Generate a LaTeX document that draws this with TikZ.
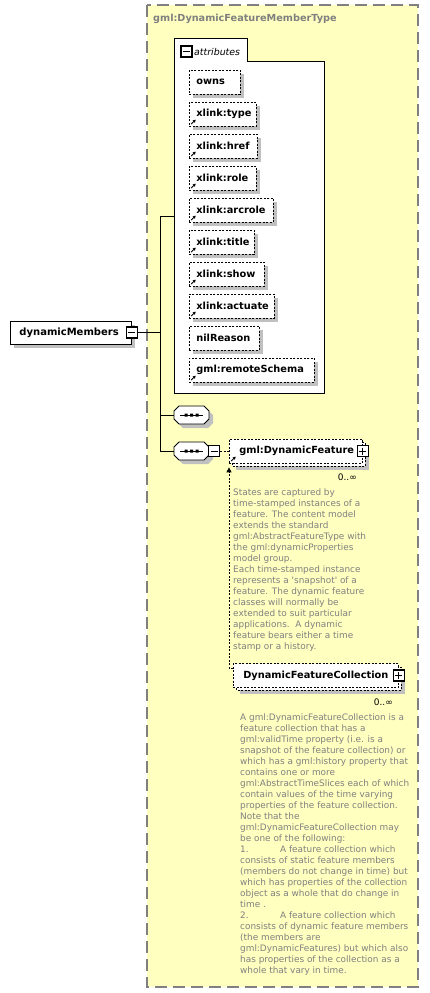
\documentclass[tikz,border=0pt]{standalone}
\usepackage{fontspec}
\setmainfont{DejaVu Sans}
\usetikzlibrary{arrows.meta,shadows}
\definecolor{ybg}{RGB}{255,255,192}
\definecolor{bgray}{RGB}{128,128,128}
\definecolor{shgray}{RGB}{192,192,192}
\definecolor{tgray}{RGB}{128,128,128}
\newcommand\refmark[1]{\draw[line width=0.9pt,-{Triangle[length=2.8pt,width=3pt]}] ([xshift=2.2pt,yshift=2.2pt]#1.south west) -- ++(4.5,-4.5);}
\begin{document}
\begin{tikzpicture}[x=1pt,y=-1pt,
  lbl/.style={font=\fontsize{9.8}{11}\selectfont\bfseries},
  shad/.style={drop shadow={shadow xshift=4pt,shadow yshift=-4pt,fill=shgray,opacity=1}},
  attr/.style={lbl,draw,dash pattern=on 2pt off 1.5pt,line width=0.7pt,fill=white,minimum height=24pt,inner xsep=7pt,inner ysep=0pt,anchor=west,align=left,shad},
  elem/.style={lbl,draw,dash pattern=on 2pt off 1.5pt,line width=0.7pt,fill=white,minimum height=24pt,inner xsep=10pt,inner ysep=0pt,anchor=west,align=left},
  elemback/.style={draw,dash pattern=on 2pt off 1.5pt,line width=0.7pt,fill=white},
  pm/.style={draw,line width=1.2pt,fill=white,minimum size=11pt,inner sep=0pt},
  minusbox/.style={pm,path picture={\draw[line width=1pt] ([xshift=2pt]path picture bounding box.west) -- ([xshift=-2pt]path picture bounding box.east);}},
  plusbox/.style={pm,path picture={\draw[line width=1pt] ([xshift=2pt]path picture bounding box.west) -- ([xshift=-2pt]path picture bounding box.east) ([yshift=-2pt]path picture bounding box.north) -- ([yshift=2pt]path picture bounding box.south);}},
  conn/.style={line width=0.9pt},
  note/.style={font=\fontsize{8.9}{11}\selectfont,text=tgray,align=left,inner sep=0pt,anchor=north west},
  occ/.style={font=\fontsize{9}{11}\selectfont,anchor=east,inner sep=0pt},
  seqpic/.pic={
    \begin{scope}[shift={(4,4)}]
      \fill[shgray] (0,-4)--(5,-9)--(30,-9)--(35,-4)--(35,4)--(30,9)--(5,9)--(0,4)--cycle;
    \end{scope}
    \draw[line width=0.9pt,fill=white] (0,-4)--(5,-9)--(30,-9)--(35,-4)--(35,4)--(30,9)--(5,9)--(0,4)--cycle;
    \draw[line width=0.9pt] (6,0)--(29,0);
    \fill (10.5,-1.5) rectangle ++(3,3) (16,-1.5) rectangle ++(3,3) (21.5,-1.5) rectangle ++(3,3);
    \coordinate (-w) at (0,0);
    \coordinate (-e) at (35,0);
  }
]
\useasboundingbox (0,0) rectangle (429,993);
% complex type background
\draw[fill=ybg,draw=bgray,line width=1.8pt,dash pattern=on 12pt off 6pt] (147,5) rectangle (418,987);
\node[text=bgray,font=\fontsize{9.7}{11}\selectfont\bfseries,anchor=west,inner sep=0pt] (title) at (153,19) {gml:DynamicFeatureMemberType};

% attributes container
\draw[line width=0.9pt,fill=white] (174,38) -- (247,38) -- (247,61) -- (324,61) -- (324,393) -- (174,393) -- cycle;
\node[minusbox] (attm) at (186.5,51.5) {};
\node[font=\fontsize{9.4}{11}\selectfont\itshape,anchor=west,inner sep=0pt] (attl) at (194,51.5) {attributes};
\coordinate (attin) at (174,216);

\node[attr,text width=37pt] (a1) at (189,82) {owns};
\node[attr,text width=53pt] (a2) at (189,114) {xlink:type};
\node[attr,text width=54pt] (a3) at (189,146) {xlink:href};
\node[attr,text width=53pt] (a4) at (189,178) {xlink:role};
\node[attr,text width=70pt] (a5) at (189,210) {xlink:arcrole};
\node[attr,text width=51pt] (a6) at (189,242) {xlink:title};
\node[attr,text width=61pt] (a7) at (189,274) {xlink:show};
\node[attr,text width=71pt] (a8) at (189,306) {xlink:actuate};
\node[attr,text width=56pt] (a9) at (189,338) {nilReason};
\node[attr,text width=111pt] (a10) at (189,370) {gml:remoteSchema};
\refmark{a2}\refmark{a3}\refmark{a4}\refmark{a5}\refmark{a6}\refmark{a7}\refmark{a8}\refmark{a10}

% dynamicMembers element
\node[lbl,font=\fontsize{10}{11}\selectfont\bfseries,draw,line width=0.9pt,fill=white,minimum height=23pt,inner xsep=9pt,inner ysep=0pt,anchor=west,align=left,text width=103pt,shad] (dm) at (10,332.5) {dynamicMembers};
\node[minusbox] (dmm) at (dm.east) {};

% sequences
\pic (s1) at (174,415) {seqpic};
\pic (s2) at (174,451) {seqpic};
\node[minusbox] (s2m) at (214,451) {};

% connectors
\coordinate (vtop) at (160,216);
\coordinate (vbot) at (160,451);
\draw[conn] (dmm.east) -- (dmm.east -| vtop);
\draw[conn] (vtop) -- (vbot);
\draw[conn] (vtop) -- (attin);
\draw[conn] (s1-w -| vtop) -- (s1-w);
\draw[conn] (vbot) -- (s2-w);

% gml:DynamicFeature
\fill[shgray] (236,446) rectangle (369,470);
\draw[elemback] (232,442) rectangle (365,466);
\node[elem,text width=113pt] (df) at (229,451) {gml:DynamicFeature};
\node[plusbox] (dfp) at (df.east) {};
\refmark{df}
\draw[conn,line width=0.8pt,dash pattern=on 2pt off 1.5pt] (s2m.east) -- (df.west);
\node[occ] (dfo) at (357,477) {0..∞};

% DynamicFeatureCollection
\fill[shgray] (240,671) rectangle (405,694);
\draw[elemback] (236,667) rectangle (401,690);
\node[elem,text width=145pt] (dfc) at (233,675.5) {DynamicFeatureCollection};
\node[plusbox] (dfcp) at (dfc.east) {};
\node[occ] (dfco) at (393,702) {0..∞};

% substitution connector
\draw[line width=0.8pt,dash pattern=on 2pt off 1.5pt,-{Triangle[length=5pt,width=5pt]}] ([yshift=-5pt]dfc.north west) -| ([yshift=-4pt]df.south west);

% annotations
\node[note] (n1) at (233,489) {States are captured by\\
time-stamped instances of a\\
feature. The content model\\
extends the standard\\
gml:AbstractFeatureType with\\
the gml:dynamicProperties\\
model group.\\
Each time-stamped instance\\
represents a \textquotesingle snapshot\textquotesingle\ of a\\
feature. The dynamic feature\\
classes will normally be\\
extended to suit particular\\
applications.\ \ A dynamic\\
feature bears either a time\\
stamp or a history.};

\node[note] (n2) at (240,714) {A gml:DynamicFeatureCollection is a\\
feature collection that has a\\
gml:validTime property (i.e. is a\\
snapshot of the feature collection) or\\
which has a gml:history property that\\
contains one or more\\
gml:AbstractTimeSlices each of which\\
contain values of the time varying\\
properties of the feature collection.\\
Note that the\\
gml:DynamicFeatureCollection may\\
be one of the following:\\
\makebox[40pt][l]{1.}A feature collection which\\
consists of static feature members\\
(members do not change in time) but\\
which has properties of the collection\\
object as a whole that do change in\\
time .\\
\makebox[40pt][l]{2.}A feature collection which\\
consists of dynamic feature members\\
(the members are\\
gml:DynamicFeatures) but which also\\
has properties of the collection as a\\
whole that vary in time.};
\end{tikzpicture}
\end{document}
